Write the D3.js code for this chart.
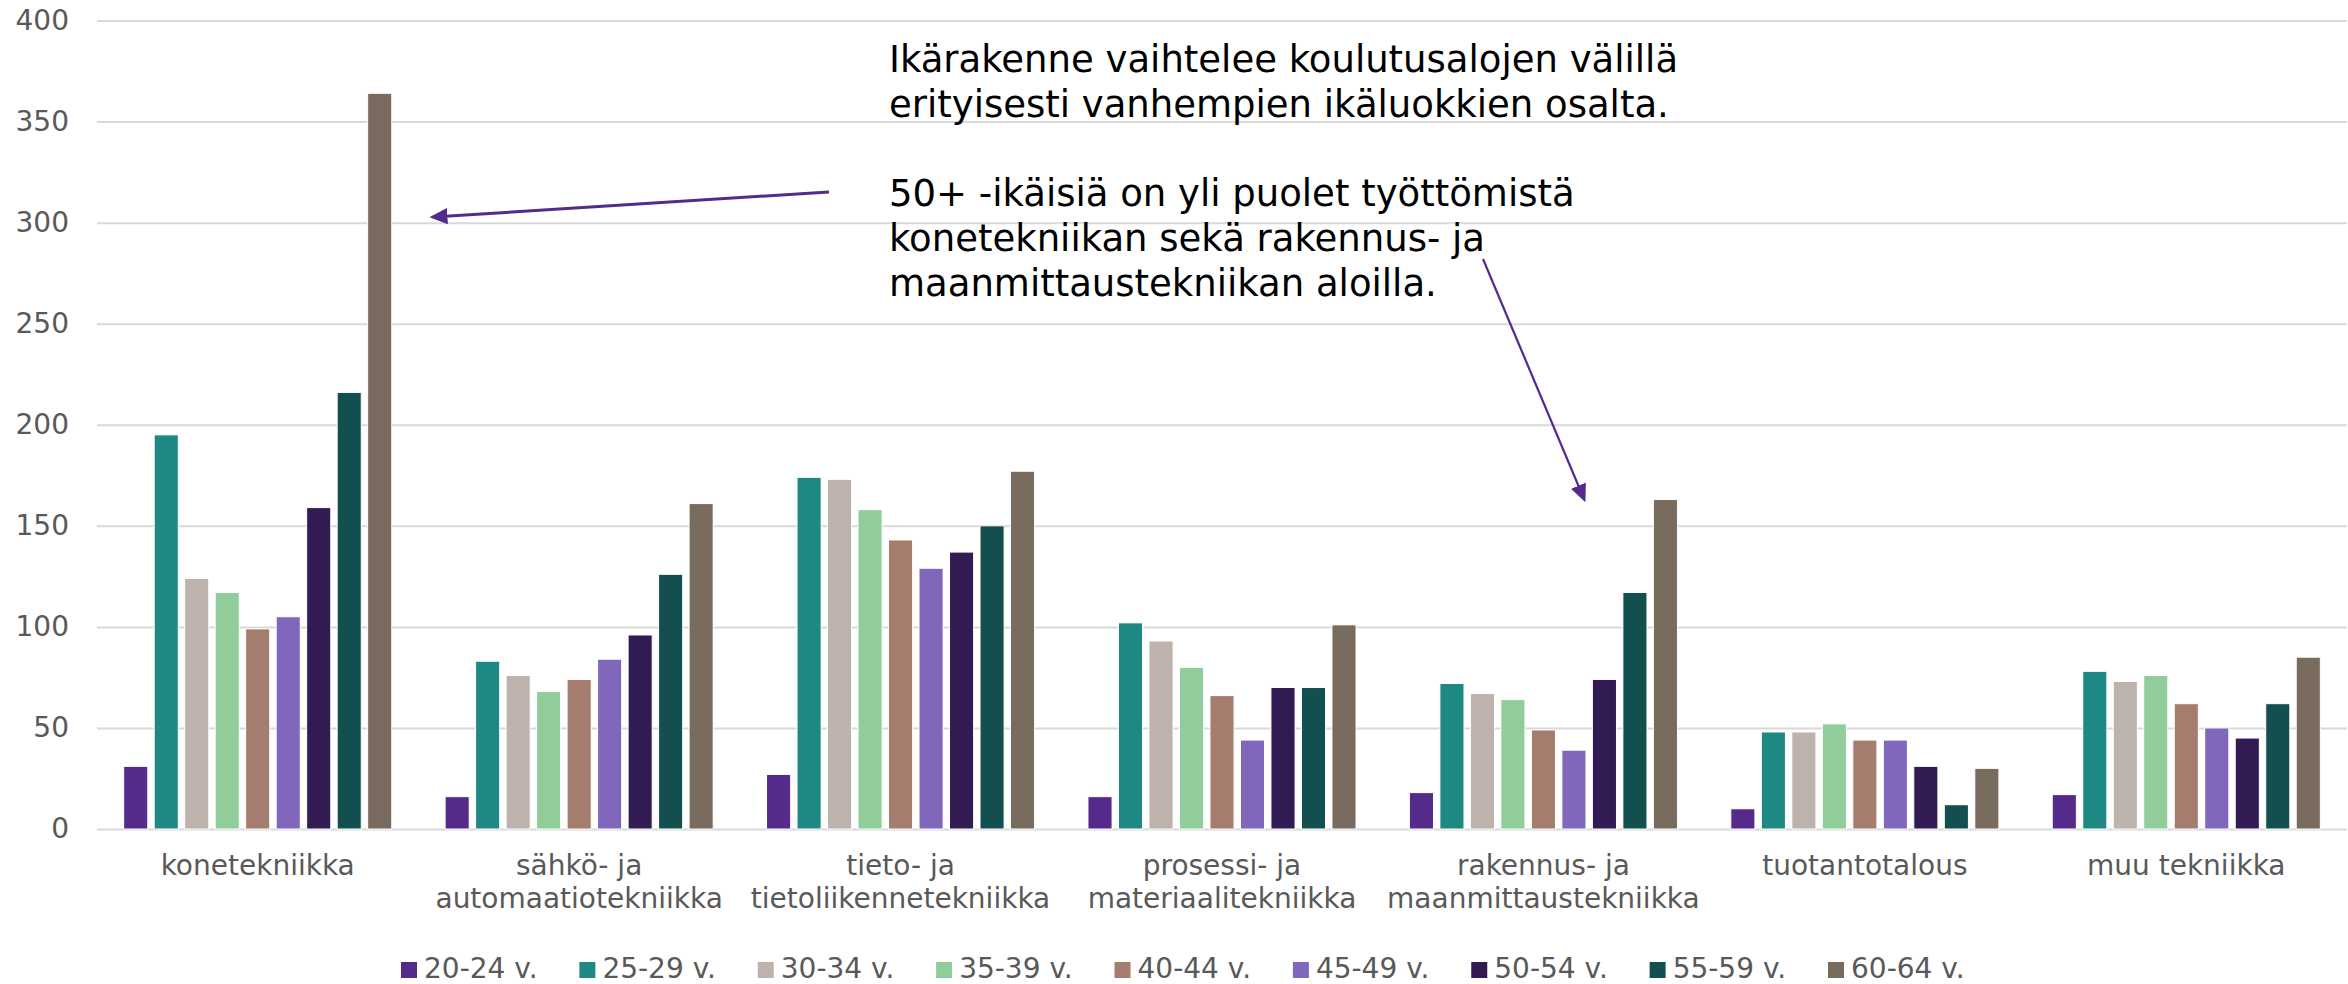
<!DOCTYPE html>
<html>
<head>
<meta charset="utf-8">
<script src="https://cdn.jsdelivr.net/npm/d3@7"></script>
<style>
  html, body { margin: 0; padding: 0; background: #fff; }
  svg { display: block; font-family: "DejaVu Sans", Verdana, sans-serif; }
</style>
</head>
<body>
<div id="container"></div>
<script>
const { d3 } = window;

const WIDTH = 2348;
const HEIGHT = 984;

const categories = [
  'konetekniikka',
  'sähkö- ja\nautomaatiotekniikka',
  'tieto- ja\ntietoliikennetekniikka',
  'prosessi- ja\nmateriaalitekniikka',
  'rakennus- ja\nmaanmittaustekniikka',
  'tuotantotalous',
  'muu tekniikka',
];
const ageGroups = ['20-24 v.', '25-29 v.', '30-34 v.', '35-39 v.', '40-44 v.', '45-49 v.', '50-54 v.', '55-59 v.', '60-64 v.'];
const COLORS = ['#542a8a', '#1e8883', '#bdb2ac', '#91cd9b', '#a57d6f', '#8067bc', '#321a52', '#134f4f', '#7a6b5f'];

// one array per age group, in category order
const v20_24 = [31, 16, 27, 16, 18, 10, 17];
const v25_29 = [195, 83, 174, 102, 72, 48, 78];
const v30_34 = [124, 76, 173, 93, 67, 48, 73];
const v35_39 = [117, 68, 158, 80, 64, 52, 76];
const v40_44 = [99, 74, 143, 66, 49, 44, 62];
const v45_49 = [105, 84, 129, 44, 39, 44, 50];
const v50_54 = [159, 96, 137, 70, 74, 31, 45];
const v55_59 = [216, 126, 150, 70, 117, 12, 62];
const v60_64 = [364, 161, 177, 101, 163, 30, 85];
const series = [v20_24, v25_29, v30_34, v35_39, v40_44, v45_49, v50_54, v55_59, v60_64];

const yTicks = [0, 50, 100, 150, 200, 250, 300, 350, 400];

const noteLines = [
  'Ikärakenne vaihtelee koulutusalojen välillä',
  'erityisesti vanhempien ikäluokkien osalta.',
  '',
  '50+ -ikäisiä on yli puolet työttömistä',
  'konetekniikan sekä rakennus- ja',
  'maanmittaustekniikan aloilla.',
];

const x0 = d3.scaleBand().domain(categories).range([97, 2347]).paddingInner(0.166).paddingOuter(0.083);
const x1 = d3.scaleBand().domain(ageGroups).range([0, x0.bandwidth()]).paddingInner(0.21);
const y = d3.scaleLinear().domain([0, 400]).range([829, 20.5]);

function initSVG() {
  return d3.select('#container')
    .append('svg')
    .attr('width', WIDTH)
    .attr('height', HEIGHT);
}

function drawGrid(svg) {
  const axis = d3.axisLeft(y).tickValues(yTicks).tickSize(-(2347 - 97)).tickPadding(28);
  const g = svg.append('g')
    .attr('transform', 'translate(97,0)')
    .call(axis);
  g.select('.domain').remove();
  g.selectAll('.tick line')
    .attr('stroke', '#d9d9d9')
    .attr('stroke-width', 2);
  g.selectAll('.tick text')
    .attr('fill', '#595959')
    .style('font-size', '28px')
    .style('font-family', '"DejaVu Sans", Verdana, sans-serif');
}

function drawBars(svg) {
  const groups = svg.append('g')
    .selectAll('g')
    .data(categories)
    .join('g')
    .attr('transform', (d) => `translate(${x0(d)},0)`);

  groups.selectAll('rect')
    .data((d, i) => ageGroups.map((a, k) => ({ key: a, value: series[k][i], color: COLORS[k] })))
    .join('rect')
    .attr('x', (d) => x1(d.key))
    .attr('width', x1.bandwidth())
    .attr('y', (d) => y(d.value))
    .attr('height', (d) => y(0) - y(d.value))
    .attr('fill', (d) => d.color)
    .attr('stroke', '#fff')
    .attr('stroke-width', 1);
}

function drawCategoryLabels(svg) {
  const labels = svg.append('g')
    .selectAll('text')
    .data(categories)
    .join('text')
    .attr('text-anchor', 'middle')
    .attr('fill', '#595959')
    .style('font-size', '28px');

  labels.selectAll('tspan')
    .data((d) => d.split('\n').map((line) => ({ line, cat: d })))
    .join('tspan')
    .attr('x', (d) => x0(d.cat) + x0.bandwidth() / 2)
    .attr('y', (d, i) => 875 + i * 33)
    .text((d) => d.line);
}

function drawLegend(svg) {
  const lx = d3.scaleLinear().domain([0, ageGroups.length - 1]).range([401, 1828]);
  const items = svg.append('g')
    .selectAll('g')
    .data(ageGroups)
    .join('g')
    .attr('transform', (d, i) => `translate(${lx(i)},0)`);

  items.append('rect')
    .attr('y', 962)
    .attr('width', 16)
    .attr('height', 16)
    .attr('fill', (d, i) => COLORS[i]);

  items.append('text')
    .attr('x', 23)
    .attr('y', 978)
    .attr('fill', '#595959')
    .style('font-size', '28px')
    .text((d) => d);
}

function drawNotes(svg) {
  svg.append('defs')
    .append('marker')
    .attr('id', 'head')
    .attr('viewBox', '0 0 10 10')
    .attr('refX', 8)
    .attr('refY', 5)
    .attr('markerUnits', 'userSpaceOnUse')
    .attr('markerWidth', 18)
    .attr('markerHeight', 18)
    .attr('orient', 'auto')
    .attr('preserveAspectRatio', 'none')
    .append('path')
    .attr('d', 'M0,0.5L10,5L0,9.5Z')
    .attr('fill', '#542a8a');

  svg.append('text')
    .attr('fill', '#000')
    .style('font-size', '37px')
    .selectAll('tspan')
    .data(noteLines)
    .join('tspan')
    .attr('x', 889)
    .attr('y', (d, i) => 72 + i * 44.7)
    .text((d) => d);

  const arrows = [
    { x1: 829, y1: 192, x2: 433, y2: 217, w: 3 },
    { x1: 1483, y1: 259, x2: 1584, y2: 499, w: 2.2 },
  ];
  svg.append('g')
    .selectAll('line')
    .data(arrows)
    .join('line')
    .attr('x1', (d) => d.x1)
    .attr('y1', (d) => d.y1)
    .attr('x2', (d) => d.x2)
    .attr('y2', (d) => d.y2)
    .attr('stroke', '#542a8a')
    .attr('stroke-width', (d) => d.w)
    .attr('marker-end', 'url(#head)');
}

function boot() {
  const svg = initSVG();
  drawGrid(svg);
  drawBars(svg);
  drawCategoryLabels(svg);
  drawLegend(svg);
  drawNotes(svg);
}

boot();
</script>
</body>
</html>
